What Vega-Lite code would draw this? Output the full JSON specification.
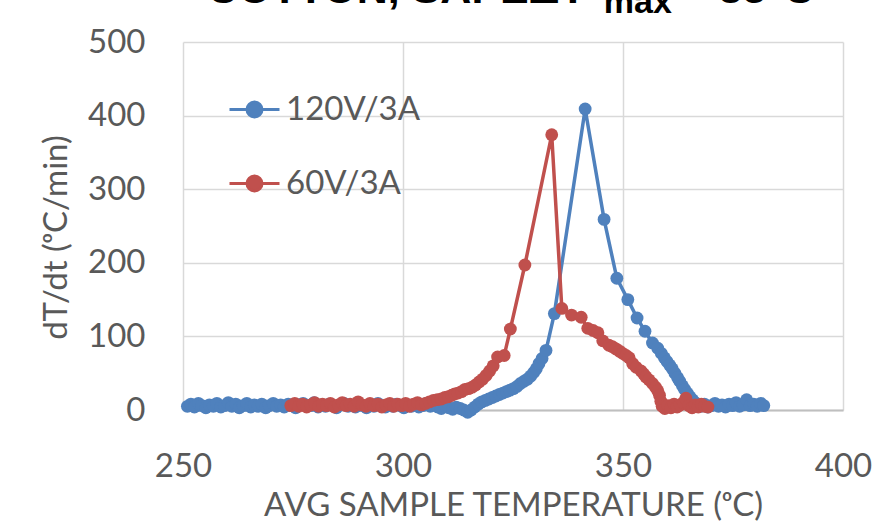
{
  "$schema": "https://vega.github.io/schema/vega-lite/v6.json",
  "width": 660,
  "height": 368,
  "autosize": {"type": "none"},
  "padding": {"left": 183, "top": 42, "right": 53, "bottom": 122},
  "background": "white",
  "title": {
    "text": "COTTON, SAPEΔT\u00a0\u00a0\u00a0\u00a0\u00a0\u00a0\u00a0\u00a0~ 35°C",
    "subtitle": "\u200d\u00a0\u00a0\u00a0\u00a0\u00a0\u00a0\u00a0\u00a0\u00a0\u00a0\u00a0\u00a0\u00a0\u00a0\u00a0\u00a0\u00a0\u00a0\u00a0\u00a0\u00a0\u00a0\u00a0\u00a0\u00a0\u00a0\u00a0\u00a0\u00a0\u00a0\u00a0\u00a0\u00a0\u00a0\u00a0\u00a0\u00a0\u00a0\u00a0\u00a0\u00a0\u00a0max",
    "anchor": "start",
    "frame": "group",
    "dx": 24,
    "offset": 6,
    "subtitlePadding": -26,
    "limit": 2000,
    "font": "Liberation Sans",
    "fontWeight": "bold",
    "fontSize": 43,
    "color": "#000000",
    "subtitleFont": "Liberation Sans",
    "subtitleFontWeight": "bold",
    "subtitleFontSize": 34,
    "subtitleColor": "#000000"
  },
  "datasets": {
    "blue": [
      {"series":"120V/3A","T":251.0,"rate":5},{"series":"120V/3A","T":251.8,"rate":8},{"series":"120V/3A","T":252.6,"rate":4},{"series":"120V/3A","T":253.5,"rate":9},{"series":"120V/3A","T":254.3,"rate":6},{"series":"120V/3A","T":255.2,"rate":3},{"series":"120V/3A","T":256.0,"rate":7},{"series":"120V/3A","T":256.9,"rate":5},{"series":"120V/3A","T":257.7,"rate":9},{"series":"120V/3A","T":258.6,"rate":4},
      {"series":"120V/3A","T":259.4,"rate":6},{"series":"120V/3A","T":260.3,"rate":10},{"series":"120V/3A","T":261.1,"rate":5},{"series":"120V/3A","T":262.0,"rate":8},{"series":"120V/3A","T":262.8,"rate":3},{"series":"120V/3A","T":263.7,"rate":6},{"series":"120V/3A","T":264.5,"rate":9},{"series":"120V/3A","T":265.4,"rate":4},{"series":"120V/3A","T":266.2,"rate":7},{"series":"120V/3A","T":267.1,"rate":5},
      {"series":"120V/3A","T":267.9,"rate":8},{"series":"120V/3A","T":268.8,"rate":3},{"series":"120V/3A","T":269.6,"rate":6},{"series":"120V/3A","T":270.5,"rate":9},{"series":"120V/3A","T":271.3,"rate":5},{"series":"120V/3A","T":272.2,"rate":7},{"series":"120V/3A","T":273.0,"rate":4},{"series":"120V/3A","T":273.9,"rate":8},{"series":"120V/3A","T":274.7,"rate":6},{"series":"120V/3A","T":275.6,"rate":3},
      {"series":"120V/3A","T":276.4,"rate":7},{"series":"120V/3A","T":277.3,"rate":9},{"series":"120V/3A","T":278.1,"rate":5},{"series":"120V/3A","T":279.0,"rate":6},{"series":"120V/3A","T":279.8,"rate":10},{"series":"120V/3A","T":280.7,"rate":4},{"series":"120V/3A","T":281.5,"rate":7},{"series":"120V/3A","T":282.4,"rate":5},{"series":"120V/3A","T":283.2,"rate":8},{"series":"120V/3A","T":284.1,"rate":6},
      {"series":"120V/3A","T":284.9,"rate":3},{"series":"120V/3A","T":285.8,"rate":7},{"series":"120V/3A","T":286.6,"rate":9},{"series":"120V/3A","T":287.5,"rate":5},{"series":"120V/3A","T":288.3,"rate":6},{"series":"120V/3A","T":289.2,"rate":4},{"series":"120V/3A","T":290.0,"rate":8},{"series":"120V/3A","T":290.9,"rate":6},{"series":"120V/3A","T":291.7,"rate":3},{"series":"120V/3A","T":292.6,"rate":7},
      {"series":"120V/3A","T":293.4,"rate":5},{"series":"120V/3A","T":294.3,"rate":9},{"series":"120V/3A","T":295.1,"rate":6},{"series":"120V/3A","T":296.0,"rate":4},{"series":"120V/3A","T":296.8,"rate":7},{"series":"120V/3A","T":297.7,"rate":5},{"series":"120V/3A","T":298.5,"rate":8},{"series":"120V/3A","T":299.4,"rate":6},{"series":"120V/3A","T":300.2,"rate":3},{"series":"120V/3A","T":301.1,"rate":7},
      {"series":"120V/3A","T":301.9,"rate":5},{"series":"120V/3A","T":302.8,"rate":8},{"series":"120V/3A","T":303.6,"rate":4},{"series":"120V/3A","T":304.5,"rate":6},{"series":"120V/3A","T":305.3,"rate":9},{"series":"120V/3A","T":306.2,"rate":5},{"series":"120V/3A","T":307.0,"rate":7},{"series":"120V/3A","T":307.9,"rate":4},{"series":"120V/3A","T":308.7,"rate":2},{"series":"120V/3A","T":309.6,"rate":5},
      {"series":"120V/3A","T":310.4,"rate":3},{"series":"120V/3A","T":311.3,"rate":1},{"series":"120V/3A","T":312.1,"rate":4},{"series":"120V/3A","T":313.0,"rate":2},{"series":"120V/3A","T":313.8,"rate":0},{"series":"120V/3A","T":314.7,"rate":-3},{"series":"120V/3A","T":315.5,"rate":0},{"series":"120V/3A","T":316.3,"rate":4},{"series":"120V/3A","T":317.1,"rate":8},{"series":"120V/3A","T":317.9,"rate":11},
      {"series":"120V/3A","T":318.7,"rate":13},{"series":"120V/3A","T":319.5,"rate":15},{"series":"120V/3A","T":320.3,"rate":17},{"series":"120V/3A","T":321.1,"rate":19},{"series":"120V/3A","T":321.9,"rate":21},{"series":"120V/3A","T":322.7,"rate":23},{"series":"120V/3A","T":323.5,"rate":25},{"series":"120V/3A","T":324.3,"rate":27},{"series":"120V/3A","T":325.1,"rate":29},{"series":"120V/3A","T":325.9,"rate":32},
      {"series":"120V/3A","T":326.7,"rate":36},{"series":"120V/3A","T":327.5,"rate":39},{"series":"120V/3A","T":328.3,"rate":42},{"series":"120V/3A","T":329.0,"rate":46},{"series":"120V/3A","T":329.7,"rate":51},{"series":"120V/3A","T":330.3,"rate":56},{"series":"120V/3A","T":330.9,"rate":63},{"series":"120V/3A","T":331.6,"rate":70},{"series":"120V/3A","T":332.5,"rate":81},{"series":"120V/3A","T":334.4,"rate":131},
      {"series":"120V/3A","T":341.4,"rate":409},{"series":"120V/3A","T":345.7,"rate":259},{"series":"120V/3A","T":348.6,"rate":179},{"series":"120V/3A","T":351.1,"rate":150},{"series":"120V/3A","T":353.2,"rate":125},{"series":"120V/3A","T":355.0,"rate":107},{"series":"120V/3A","T":356.7,"rate":91},{"series":"120V/3A","T":357.9,"rate":84},{"series":"120V/3A","T":358.7,"rate":77},{"series":"120V/3A","T":359.4,"rate":71},
      {"series":"120V/3A","T":360.0,"rate":66},{"series":"120V/3A","T":360.6,"rate":61},{"series":"120V/3A","T":361.2,"rate":56},{"series":"120V/3A","T":361.8,"rate":50},{"series":"120V/3A","T":362.4,"rate":44},{"series":"120V/3A","T":362.9,"rate":39},{"series":"120V/3A","T":363.5,"rate":33},{"series":"120V/3A","T":364.0,"rate":28},{"series":"120V/3A","T":364.6,"rate":23},{"series":"120V/3A","T":365.2,"rate":18},
      {"series":"120V/3A","T":365.8,"rate":14},{"series":"120V/3A","T":366.4,"rate":10},{"series":"120V/3A","T":367.0,"rate":7},{"series":"120V/3A","T":367.7,"rate":5},{"series":"120V/3A","T":368.5,"rate":8},{"series":"120V/3A","T":369.3,"rate":4},{"series":"120V/3A","T":370.1,"rate":6},{"series":"120V/3A","T":370.9,"rate":9},{"series":"120V/3A","T":371.7,"rate":5},{"series":"120V/3A","T":372.5,"rate":7},
      {"series":"120V/3A","T":373.3,"rate":4},{"series":"120V/3A","T":374.1,"rate":8},{"series":"120V/3A","T":374.9,"rate":6},{"series":"120V/3A","T":375.7,"rate":10},{"series":"120V/3A","T":376.5,"rate":5},{"series":"120V/3A","T":377.3,"rate":7},{"series":"120V/3A","T":378.1,"rate":14},{"series":"120V/3A","T":378.9,"rate":6},{"series":"120V/3A","T":379.7,"rate":8},{"series":"120V/3A","T":380.5,"rate":5},
      {"series":"120V/3A","T":381.3,"rate":9},{"series":"120V/3A","T":382.0,"rate":6}
    ],
    "red": [
      {"series":"60V/3A","T":274.5,"rate":6},{"series":"60V/3A","T":275.4,"rate":9},{"series":"60V/3A","T":276.3,"rate":5},{"series":"60V/3A","T":277.2,"rate":8},{"series":"60V/3A","T":278.1,"rate":4},{"series":"60V/3A","T":279.0,"rate":7},{"series":"60V/3A","T":279.9,"rate":10},{"series":"60V/3A","T":280.8,"rate":5},{"series":"60V/3A","T":281.7,"rate":8},{"series":"60V/3A","T":282.6,"rate":6},
      {"series":"60V/3A","T":283.5,"rate":9},{"series":"60V/3A","T":284.4,"rate":4},{"series":"60V/3A","T":285.3,"rate":7},{"series":"60V/3A","T":286.2,"rate":10},{"series":"60V/3A","T":287.1,"rate":6},{"series":"60V/3A","T":288.0,"rate":8},{"series":"60V/3A","T":288.9,"rate":5},{"series":"60V/3A","T":289.8,"rate":11},{"series":"60V/3A","T":290.7,"rate":7},{"series":"60V/3A","T":291.6,"rate":5},
      {"series":"60V/3A","T":292.5,"rate":9},{"series":"60V/3A","T":293.4,"rate":6},{"series":"60V/3A","T":294.3,"rate":8},{"series":"60V/3A","T":295.2,"rate":4},{"series":"60V/3A","T":296.1,"rate":7},{"series":"60V/3A","T":297.0,"rate":9},{"series":"60V/3A","T":297.9,"rate":5},{"series":"60V/3A","T":298.8,"rate":8},{"series":"60V/3A","T":299.7,"rate":6},{"series":"60V/3A","T":300.6,"rate":9},
      {"series":"60V/3A","T":301.5,"rate":5},{"series":"60V/3A","T":302.4,"rate":8},{"series":"60V/3A","T":303.3,"rate":10},{"series":"60V/3A","T":304.2,"rate":7},{"series":"60V/3A","T":305.1,"rate":9},{"series":"60V/3A","T":306.0,"rate":11},{"series":"60V/3A","T":306.9,"rate":13},{"series":"60V/3A","T":307.8,"rate":14},{"series":"60V/3A","T":308.7,"rate":15},{"series":"60V/3A","T":309.5,"rate":17},
      {"series":"60V/3A","T":310.3,"rate":18},{"series":"60V/3A","T":311.1,"rate":20},{"series":"60V/3A","T":311.8,"rate":22},{"series":"60V/3A","T":312.5,"rate":23},{"series":"60V/3A","T":313.3,"rate":25},{"series":"60V/3A","T":314.1,"rate":28},{"series":"60V/3A","T":314.9,"rate":29},{"series":"60V/3A","T":315.7,"rate":31},{"series":"60V/3A","T":316.5,"rate":34},{"series":"60V/3A","T":317.3,"rate":38},
      {"series":"60V/3A","T":318.1,"rate":42},{"series":"60V/3A","T":318.9,"rate":47},{"series":"60V/3A","T":319.7,"rate":53},{"series":"60V/3A","T":320.5,"rate":60},{"series":"60V/3A","T":321.5,"rate":72},{"series":"60V/3A","T":323.0,"rate":74},{"series":"60V/3A","T":324.4,"rate":110},{"series":"60V/3A","T":327.7,"rate":197},{"series":"60V/3A","T":333.8,"rate":374},{"series":"60V/3A","T":336.1,"rate":138},
      {"series":"60V/3A","T":338.3,"rate":129},{"series":"60V/3A","T":340.5,"rate":126},{"series":"60V/3A","T":342.0,"rate":111},{"series":"60V/3A","T":343.2,"rate":108},{"series":"60V/3A","T":344.3,"rate":105},{"series":"60V/3A","T":345.4,"rate":94},{"series":"60V/3A","T":346.8,"rate":88},{"series":"60V/3A","T":347.6,"rate":86},{"series":"60V/3A","T":348.4,"rate":83},{"series":"60V/3A","T":349.2,"rate":80},
      {"series":"60V/3A","T":349.9,"rate":77},{"series":"60V/3A","T":350.7,"rate":74},{"series":"60V/3A","T":351.4,"rate":71},{"series":"60V/3A","T":352.2,"rate":63},{"series":"60V/3A","T":353.0,"rate":58},{"series":"60V/3A","T":354.1,"rate":53},{"series":"60V/3A","T":354.7,"rate":49},{"series":"60V/3A","T":355.2,"rate":45},{"series":"60V/3A","T":355.9,"rate":41},{"series":"60V/3A","T":356.7,"rate":36},
      {"series":"60V/3A","T":357.4,"rate":31},{"series":"60V/3A","T":357.9,"rate":26},{"series":"60V/3A","T":358.3,"rate":20},{"series":"60V/3A","T":358.6,"rate":12},{"series":"60V/3A","T":358.9,"rate":5},{"series":"60V/3A","T":359.5,"rate":2},{"series":"60V/3A","T":360.2,"rate":6},{"series":"60V/3A","T":360.9,"rate":3},{"series":"60V/3A","T":361.6,"rate":8},{"series":"60V/3A","T":362.3,"rate":4},
      {"series":"60V/3A","T":363.0,"rate":7},{"series":"60V/3A","T":363.7,"rate":10},{"series":"60V/3A","T":364.3,"rate":16},{"series":"60V/3A","T":365.0,"rate":6},{"series":"60V/3A","T":365.7,"rate":3},{"series":"60V/3A","T":366.4,"rate":7},{"series":"60V/3A","T":367.1,"rate":4},{"series":"60V/3A","T":367.8,"rate":8},{"series":"60V/3A","T":368.5,"rate":5},{"series":"60V/3A","T":369.3,"rate":4}
    ]
  },
  "encoding": {
    "x": {
      "field": "T", "type": "quantitative",
      "scale": {"domain": [250, 400], "nice": false, "zero": false},
      "axis": {"values": [250, 300, 350, 400], "title": "AVG SAMPLE TEMPERATURE (ᵒC)", "labelFlush": false, "labelPadding": 40, "titlePadding": 6, "domain": true, "domainColor": "#bfbfbf", "domainWidth": 2}
    },
    "y": {
      "field": "rate", "type": "quantitative",
      "scale": {"domain": [0, 500], "nice": false},
      "axis": {"values": [0, 100, 200, 300, 400, 500], "title": "dT/dt (ᵒC/min)", "titleY": 195, "labelPadding": 38, "titlePadding": 14, "domain": false}
    },
    "color": {
      "field": "series", "type": "nominal",
      "scale": {"domain": ["120V/3A", "60V/3A"], "range": ["#4f81bd", "#c0504d"]},
      "legend": {
        "title": null,
        "orient": "none",
        "legendX": 45,
        "legendY": 41,
        "padding": 0,
        "symbolType": "M-1,0H1M-0.3,0A0.3,0.3,0,1,1,0.3,0A0.3,0.3,0,1,1,-0.3,0Z",
        "symbolSize": 2500,
        "symbolStrokeWidth": 3,
        "labelFont": "Lato",
        "labelFontSize": 33,
        "labelColor": "#595959",
        "labelOffset": 5,
        "rowPadding": 30,
        "labelLimit": 400,
        "encode": {
          "symbols": {
            "update": {
              "fill": {"scale": "color", "field": "value"},
              "stroke": {"scale": "color", "field": "value"},
              "opacity": {"value": 1}
            }
          }
        }
      }
    }
  },
  "layer": [
    {"data": {"name": "blue"}, "mark": {"type": "line", "strokeWidth": 3.5}},
    {"data": {"name": "blue"}, "mark": {"type": "point", "filled": true, "size": 165, "opacity": 1}},
    {"data": {"name": "red"}, "mark": {"type": "line", "strokeWidth": 3.5}},
    {"data": {"name": "red"}, "mark": {"type": "point", "filled": true, "size": 165, "opacity": 1}}
  ],
  "config": {
    "view": {"stroke": null},
    "axis": {
      "labelFont": "Lato",
      "labelFontSize": 33,
      "labelColor": "#595959",
      "titleFont": "Lato",
      "titleFontSize": 33,
      "titleFontWeight": "normal",
      "titleColor": "#595959",
      "ticks": false,
      "grid": true,
      "gridColor": "#d9d9d9",
      "gridWidth": 1.5
    }
  }
}
